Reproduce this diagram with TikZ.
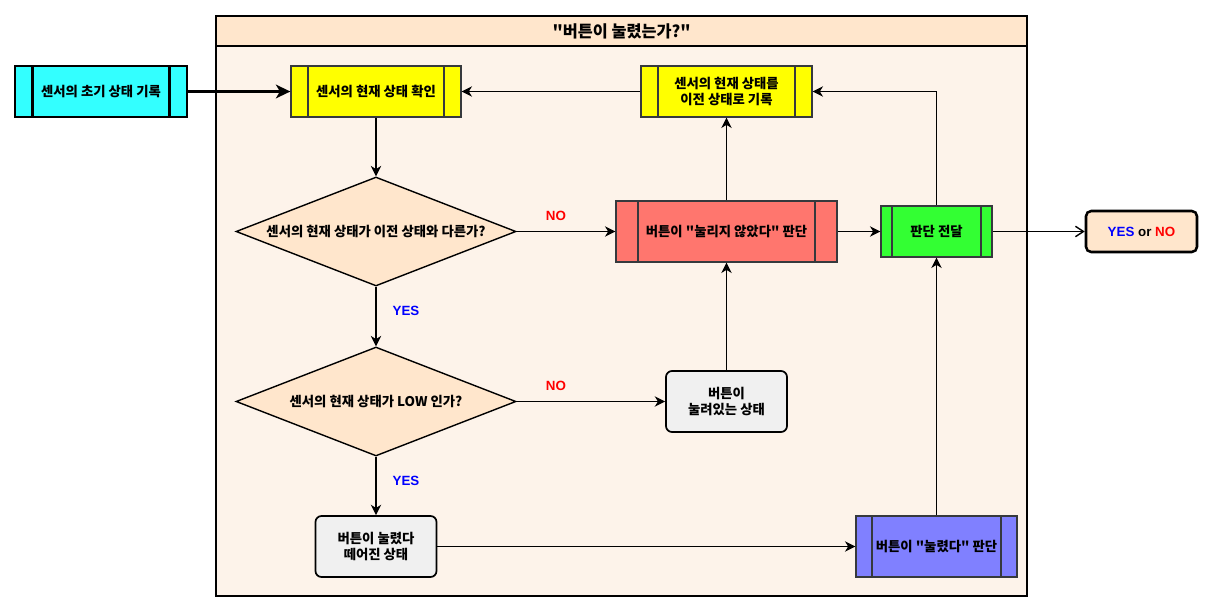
\documentclass[tikz,border=0pt]{standalone}
\usepackage{fontspec}
\newfontfamily\krfont{Noto Sans CJK KR}
\newfontfamily\latinfont{Liberation Sans}
\usepackage{xcolor}
\usetikzlibrary{
    positioning,    % For relative node placement
    arrows.meta,    % For arrow tips like Stealth
    shapes.geometric,% For the diamond shape
    calc            % For the side lines of the process boxes
}

\definecolor{cyanbox}{HTML}{33FFFF}
\definecolor{yellowbox}{HTML}{FFFF00}
\definecolor{redbox}{HTML}{FF766E}
\definecolor{greenbox}{HTML}{33FF33}
\definecolor{bluebox}{HTML}{8080FF}
\definecolor{peach}{HTML}{FFE6CC}
\definecolor{bodypeach}{HTML}{FDF3EA}
\definecolor{stategray}{HTML}{F0F0F0}
\definecolor{procline}{HTML}{36393D}
\definecolor{yesblue}{HTML}{0000FF}
\definecolor{nored}{HTML}{FF0000}

\begin{document}
\begin{tikzpicture}[
    sides/.style={procline, line width=0.9pt},
    proc/.style={rectangle, draw=procline, line width=0.9pt, inner sep=0pt, minimum height=1.275cm,
        font=\krfont\bfseries\fontsize{9.5}{11.6}\selectfont, align=center,
        path picture={
            \draw[sides]
                ($(path picture bounding box.north west)!0.1!(path picture bounding box.north east)$) --
                ($(path picture bounding box.south west)!0.1!(path picture bounding box.south east)$)
                ($(path picture bounding box.north west)!0.9!(path picture bounding box.north east)$) --
                ($(path picture bounding box.south west)!0.9!(path picture bounding box.south east)$);
        }},
    decision/.style={diamond, aspect=2.57, draw, line width=1pt, fill=peach, inner sep=0pt,
        minimum width=7cm, minimum height=2.725cm, font=\krfont\bfseries\fontsize{9.5}{11.6}\selectfont},
    state/.style={rectangle, rounded corners=0.15cm, draw, line width=1.2pt, fill=stategray,
        minimum width=3.025cm, minimum height=1.525cm, align=center, font=\krfont\bfseries\fontsize{9.5}{11.6}\selectfont},
    yes/.style={text=yesblue, font=\latinfont\bfseries\fontsize{9.5}{11}\selectfont},
    no/.style={text=nored, font=\latinfont\bfseries\fontsize{9.5}{11}\selectfont},
    arrow/.style={-{Stealth[length=0.26cm, width=0.26cm, inset=0.08cm]}, line width=1pt},
    thickarrow/.style={-{Stealth[length=0.36cm, width=0.34cm, inset=0.1cm]}, line width=1.9pt}
]
    \useasboundingbox (0,0) rectangle (30.325,-15.325);

    % Container with header
    \fill[bodypeach] (5.4,-1.15) rectangle (25.675,-14.9);
    \fill[peach] (5.4,-0.4) rectangle (25.675,-1.15);
    \draw[line width=2.1pt] (5.4,-0.4) rectangle (25.675,-14.9);
    \draw[line width=2.1pt] (5.4,-1.15) -- (25.675,-1.15);
    \node[font=\krfont\bfseries\fontsize{11.6}{13}\selectfont] (title) at (15.54,-0.775) {"버튼이 눌렸는가?"};

    % Outside start box
    \node[proc, fill=cyanbox, draw=black, line width=2.1pt, sides/.style={black, line width=2.1pt},
        minimum width=4.3cm] (init) at (2.525,-2.2875) {센서의 초기 상태 기록};

    % Top row
    \node[proc, fill=yellowbox, minimum width=4.25cm] (check) at (9.4,-2.2875) {센서의 현재 상태 확인};
    \node[proc, fill=yellowbox, minimum width=4.275cm] (record) at (18.1625,-2.2875) {센서의 현재 상태를\\이전 상태로 기록};

    % Middle row
    \node[decision] (diff) at (9.4,-5.7875) {센서의 현재 상태가 이전 상태와 다른가?};
    \node[proc, fill=redbox, minimum width=5.525cm, minimum height=1.525cm] (notpressed) at (18.1625,-5.7875) {버튼이 "눌리지 않았다" 판단};
    \node[proc, fill=greenbox, minimum width=2.775cm] (deliver) at (23.4125,-5.7875) {판단 전달};
    \node[rectangle, rounded corners=0.13cm, draw, line width=1.8pt, fill=peach, minimum width=2.775cm,
        minimum height=1.025cm, font=\latinfont\bfseries\fontsize{9.5}{11}\selectfont] (result) at (28.5375,-5.7875)
        {\textcolor{yesblue}{YES} or \textcolor{nored}{NO}};

    % Lower rows
    \node[decision] (low) at (9.4,-10.0375) {센서의 현재 상태가 LOW 인가?};
    \node[state] (pressed) at (18.1625,-10.0375) {버튼이\\눌려있는 상태};
    \node[state] (released) at (9.4,-13.6625) {버튼이 눌렸다\\떼어진 상태};
    \node[proc, fill=bluebox, minimum width=4.025cm, minimum height=1.525cm] (judged) at (23.4125,-13.6625) {버튼이 "눌렸다" 판단};

    % Branch labels
    \node[no] (no1) at (13.9,-5.4) {NO};
    \node[yes] (yes1) at (10.15,-7.775) {YES};
    \node[no] (no2) at (13.9,-9.65) {NO};
    \node[yes] (yes2) at (10.15,-12.025) {YES};

    % Connectors
    \draw[thickarrow] (init) -- (check);
    \draw[arrow] (check) -- (diff);
    \draw[arrow] (diff) -- (notpressed);
    \draw[arrow] (diff) -- (low);
    \draw[arrow] (low) -- (pressed);
    \draw[arrow] (low) -- (released);
    \draw[arrow] (pressed) -- (notpressed);
    \draw[arrow] (released) -- (judged);
    \draw[arrow] (notpressed) -- (record);
    \draw[arrow] (notpressed) -- (deliver);
    \draw[arrow] (judged) -- (deliver);
    \draw[arrow] (deliver) |- (record);
    \draw[arrow] (record) -- (check);
    \draw[-{Straight Barb[length=0.2cm, width=0.26cm]}, line width=1pt] (deliver) -- (result);

\end{tikzpicture}
\end{document}
